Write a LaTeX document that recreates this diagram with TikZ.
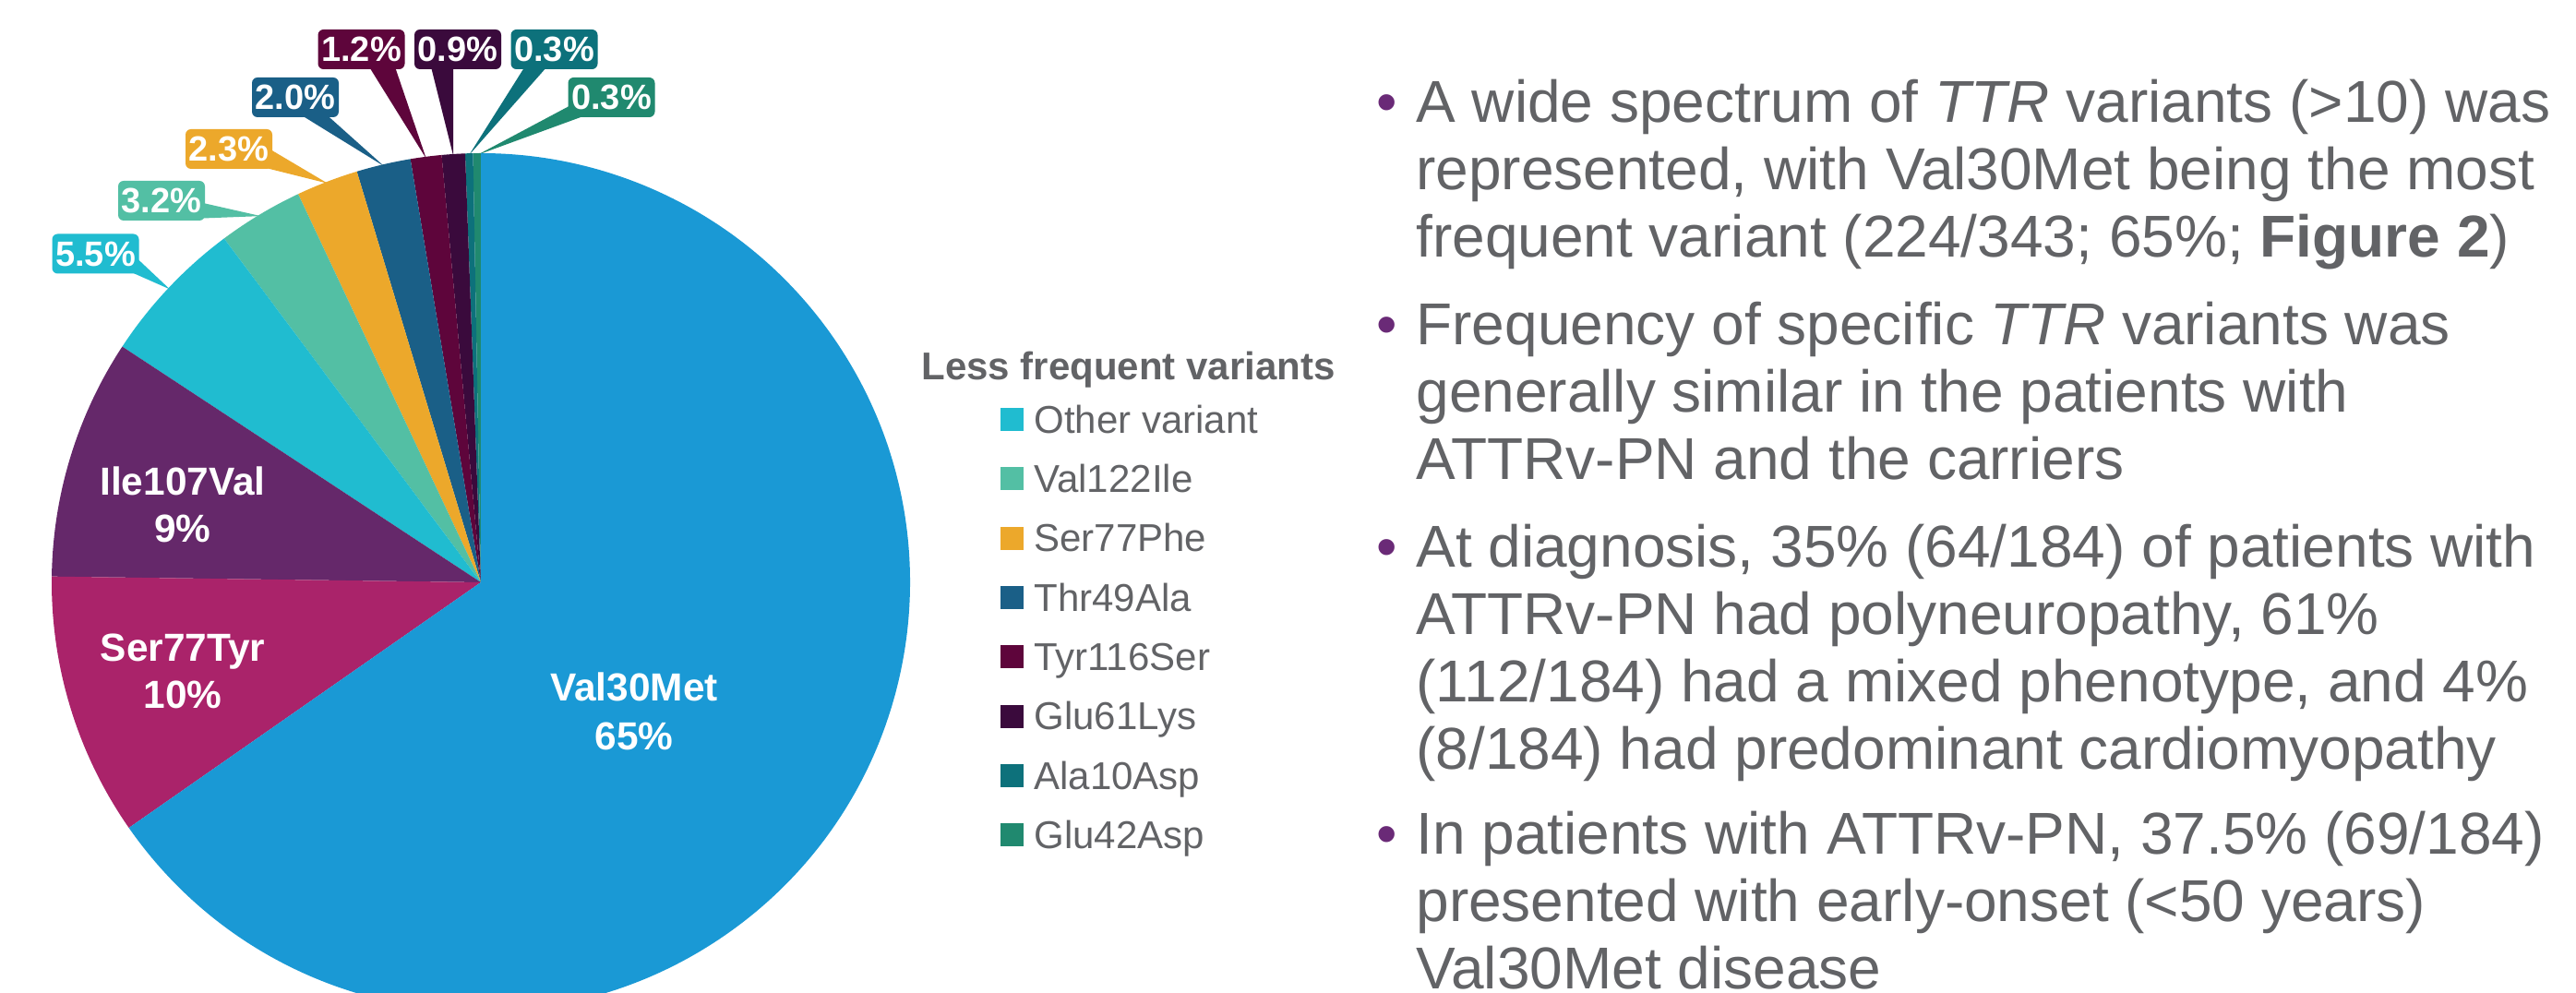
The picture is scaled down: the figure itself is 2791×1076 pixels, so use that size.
\documentclass[tikz,border=0pt]{standalone}
\usepackage{fontspec}
\setmainfont{Liberation Sans}
\usetikzlibrary{calc}
\pgfdeclarelayer{background}
\pgfsetlayers{background,main}
\definecolor{cV30}{HTML}{1A99D5}
\definecolor{cS77Y}{HTML}{AA236A}
\definecolor{cI107}{HTML}{65286A}
\definecolor{cOth}{HTML}{20BCD0}
\definecolor{cV122}{HTML}{53BFA4}
\definecolor{cS77F}{HTML}{ECA82B}
\definecolor{cT49}{HTML}{1A5F87}
\definecolor{cT116}{HTML}{5E053B}
\definecolor{cG61}{HTML}{3A0A3C}
\definecolor{cA10}{HTML}{0D717B}
\definecolor{cG42}{HTML}{20896F}
\definecolor{txtgray}{HTML}{626366}
\definecolor{bulpurple}{HTML}{6A2A77}
\begin{document}
\begin{tikzpicture}[x=0.5pt,y=0.5pt,
  callout/.style={rounded corners=3pt, minimum width=47pt, minimum height=21.5pt, inner sep=0pt, text=white, font=\fontsize{19}{19}\selectfont\bfseries},
  pielab/.style={text=white, inner sep=0pt, anchor=base, font=\fontsize{21.2}{25}\selectfont\bfseries},
  legsq/.style={minimum size=12.5pt, inner sep=0pt},
  legtxt/.style={anchor=base west, inner sep=0pt, text=txtgray, font=\fontsize{21}{24}\selectfont},
  legtitle/.style={anchor=base west, inner sep=0pt, text=txtgray, font=\fontsize{21}{24}\selectfont\bfseries},
  body/.style={anchor=base west, inner sep=0pt, text=txtgray, font=\fontsize{32}{36.5}\selectfont},
  bul/.style={anchor=base, inner sep=0pt, text=bulpurple, font=\fontsize{32}{36.5}\selectfont}]
\useasboundingbox (0,0) rectangle (2791,1076);
\coordinate (C) at (521,445);
% pie slices
\foreach \a/\b/\c in {90/91.05/cG42, 91.05/92.10/cA10, 92.10/95.25/cG61, 95.25/99.45/cT116,
  99.45/106.80/cT49, 106.80/115.20/cS77F, 115.20/126.74/cV122, 126.74/146.68/cOth,
  146.68/179.22/cI107, 179.22/214.90/cS77Y, 214.90/450/cV30}
  \fill[\c] (C) -- ($(C)+(\a:465)$) arc[start angle=\a, end angle=\b, radius=232.5pt] -- cycle;
% pie labels
\node[pielab] (l1a) at (198,539) {Ile107Val};
\node[pielab] (l1b) at (198,488) {9\%};
\node[pielab] (l2a) at (198,359) {Ser77Tyr};
\node[pielab] (l2b) at (198,308) {10\%};
\node[pielab] (l3a) at (687,316) {Val30Met};
\node[pielab] (l3b) at (687,263) {65\%};
% callout tips
\coordinate (t12) at ($(C)+(97.35:463)$);
\coordinate (t09) at ($(C)+(93.7:463)$);
\coordinate (t03a) at ($(C)+(91.6:463)$);
\coordinate (t03b) at ($(C)+(90.5:463)$);
\coordinate (t20) at ($(C)+(103.1:463)$);
\coordinate (t23) at ($(C)+(111:463)$);
\coordinate (t32) at ($(C)+(121:463)$);
\coordinate (t55) at ($(C)+(136.7:463)$);
% callout boxes
\node[callout, fill=cT116] (b12) at (391.5,1022.5) {1.2\%};
\node[callout, fill=cG61] (b09) at (496,1022.5) {0.9\%};
\node[callout, fill=cA10] (b03a) at (600.5,1022.5) {0.3\%};
\node[callout, fill=cT49] (b20) at (320,970.5) {2.0\%};
\node[callout, fill=cG42] (b03b) at (662.5,970.5) {0.3\%};
\node[callout, fill=cS77F] (b23) at (248,914.5) {2.3\%};
\node[callout, fill=cV122] (b32) at (175,858.5) {3.2\%};
\node[callout, fill=cOth] (b55) at (103.5,801) {5.5\%};
\begin{pgfonlayer}{background}
\fill[white] (0,0) rectangle (2791,1076);
\fill[cT116] ($(b12)+(8.5,-19)$) -- (t12) -- ($(b12)+(36.5,-19)$) -- cycle;
\fill[cG61] ($(b09)+(-29,-19)$) -- (t09) -- ($(b09)+(-5,-19)$) -- cycle;
\fill[cA10] ($(b03a)+(-32,-19)$) -- (t03a) -- ($(b03a)+(-8,-19)$) -- cycle;
\fill[cT49] ($(b20)+(6,-19)$) -- (t20) -- ($(b20)+(34,-19)$) -- cycle;
\fill[cG42] ($(b03b)+(-44,-8.5)$) -- (t03b) -- ($(b03b)+(-26.5,-19)$) -- cycle;
\fill[cS77F] ($(b23)+(45,-0.5)$) -- (t23) -- ($(b23)+(34,-19)$) -- cycle;
\fill[cV122] ($(b32)+(45,-2.5)$) -- (t32) -- ($(b32)+(45,-19)$) -- cycle;
\fill[cOth] ($(b55)+(45,-5)$) -- (t55) -- ($(b55)+(36.5,-19)$) -- cycle;
\end{pgfonlayer}
% legend
\node[legtitle] (lgt) at (998,664) {Less frequent variants};
\foreach \c/\t [count=\i from 0] in {cOth/Other variant, cV122/Val122Ile, cS77F/Ser77Phe, cT49/Thr49Ala,
  cT116/Tyr116Ser, cG61/Glu61Lys, cA10/Ala10Asp, cG42/Glu42Asp} {
  \node[legsq, fill=\c] (sq\i) at (1096.5,{621.4-64.3*\i}) {};
  \node[legtxt] (lt\i) at (1120,{606.7-64.3*\i}) {\t};
}
% bullet text
\node[bul] (bu1) at (1503,943) {•};
\node[body] (p1) at (1534,943) {\parbox[t]{700pt}{\raggedright A wide spectrum of \textit{TTR} variants (>10) was\\represented, with Val30Met being the most\\frequent variant (224/343; 65\%; \textbf{Figure 2})}};
\node[bul] (bu2) at (1503,702) {•};
\node[body] (p2) at (1534,702) {\parbox[t]{700pt}{\raggedright Frequency of specific \textit{TTR} variants was\\generally similar in the patients with\\ATTRv-PN and the carriers}};
\node[bul] (bu3) at (1503,461) {•};
\node[body] (p3) at (1534,461) {\parbox[t]{700pt}{\raggedright At diagnosis, 35\% (64/184) of patients with\\ATTRv-PN had polyneuropathy, 61\%\\(112/184) had a mixed phenotype, and 4\%\\(8/184) had predominant cardiomyopathy}};
\node[bul] (bu4) at (1503,150) {•};
\node[body] (p4) at (1534,150) {\parbox[t]{700pt}{\raggedright In patients with ATTRv-PN, 37.5\% (69/184)\\presented with early-onset (<50 years)\\Val30Met disease}};
\end{tikzpicture}
\end{document}
